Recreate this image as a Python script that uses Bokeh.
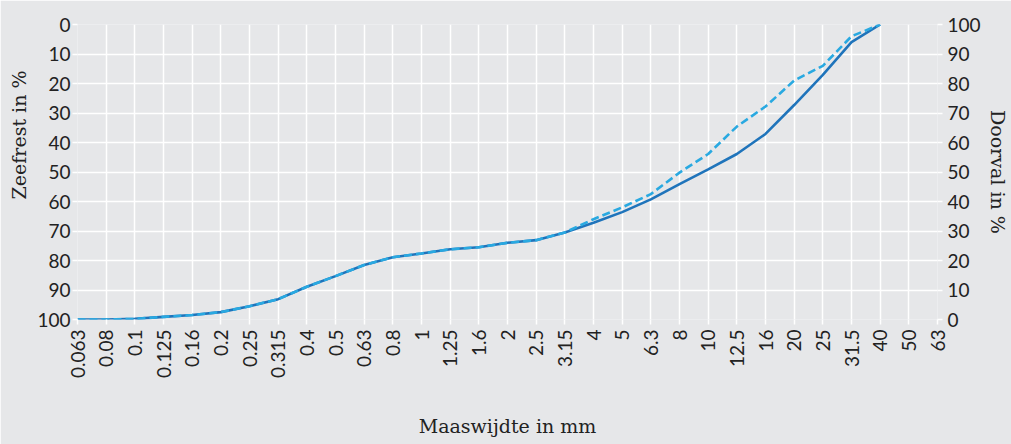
import math
import re
import numpy as np
from bokeh.plotting import figure
from bokeh.models import Range1d, LinearAxis, FixedTicker, Title
from bokeh.embed import file_html
from bokeh.resources import INLINE

# ---- data ----
sieves = ["0.063", "0.08", "0.1", "0.125", "0.16", "0.2", "0.25", "0.315", "0.4", "0.5",
          "0.63", "0.8", "1", "1.25", "1.6", "2", "2.5", "3.15", "4", "5", "6.3", "8",
          "10", "12.5", "16", "20", "25", "31.5", "40", "50", "63"]
doorval_solid = [0, 0, 0.2, 0.9, 1.5, 2.5, 4.5, 6.9, 11.1, 14.7, 18.5, 21.1, 22.4, 23.8, 24.5,
                 26.0, 26.9, 29.5, 32.8, 36.4, 40.7, 45.9, 50.9, 56.1, 62.9, 72.7, 82.9, 94.0,
                 100, np.nan, np.nan]
doorval_dashed = [0, 0, 0.2, 0.9, 1.5, 2.5, 4.5, 6.9, 11.1, 14.7, 18.5, 21.1, 22.4, 23.8, 24.5,
                  26.0, 26.9, 29.5, 34.0, 38.0, 42.5, 49.8, 56.1, 65.4, 72.2, 81.0, 86.0, 96.0,
                  100, np.nan, np.nan]
pct_ticks = [0, 10, 20, 30, 40, 50, 60, 70, 80, 90, 100]

BG = "#e6e7e9"
NUM_FONT = "Lato"
TXT_FONT = "DejaVu Serif"
TXT_COLOR = "#222222"
idx = list(range(len(sieves)))

p = figure(width=1011, height=444, output_backend="svg", toolbar_location=None,
           x_range=Range1d(0, len(sieves) - 1), y_range=Range1d(0, 100),
           y_axis_location="right", min_border_left=77, min_border_right=73,
           min_border_top=24, min_border_bottom=125)
p.background_fill_color = BG
p.border_fill_color = BG
p.outline_line_color = None
p.extra_y_ranges = {"zeef": Range1d(start=100, end=0)}

right_ax = p.yaxis[0]
bottom_ax = p.xaxis[0]
left_ax = LinearAxis(y_range_name="zeef")
p.add_layout(left_ax, "left")

for ax in [bottom_ax, right_ax, left_ax]:
    ax.axis_line_color = None
    ax.major_tick_line_color = "white"
    ax.major_tick_line_width = 1.5
    ax.major_tick_out = 5
    ax.major_tick_in = 0
    ax.minor_tick_line_color = None
    ax.major_label_text_font = NUM_FONT
    ax.major_label_text_font_size = "19px"
    ax.major_label_text_color = TXT_COLOR
    ax.axis_label_text_font = TXT_FONT
    ax.axis_label_text_font_size = "19px"
    ax.axis_label_text_font_style = "normal"
    ax.axis_label_text_color = TXT_COLOR

bottom_ax.ticker = FixedTicker(ticks=idx)
bottom_ax.major_label_overrides = {i: s for i, s in enumerate(sieves)}
bottom_ax.major_label_orientation = math.pi / 2
bottom_ax.major_label_standoff = 5
bottom_ax.axis_label = "Maaswijdte in mm"
bottom_ax.axis_label_standoff = 34

right_ax.ticker = FixedTicker(ticks=pct_ticks)
right_ax.major_label_standoff = 5
right_ax.axis_label = "Doorval in %"
right_ax.axis_label_standoff = 3

left_ax.ticker = FixedTicker(ticks=pct_ticks)
left_ax.major_label_standoff = 2

p.add_layout(Title(text="Zeefrest in  %", align="right", offset=40,
                   text_font=TXT_FONT, text_font_size="19px", text_font_style="normal",
                   text_color=TXT_COLOR), "left")

p.xgrid.ticker = FixedTicker(ticks=idx)
p.ygrid.ticker = FixedTicker(ticks=pct_ticks)
for g in [p.xgrid[0], p.ygrid[0]]:
    g.grid_line_color = "white"
    g.grid_line_width = 1.5

p.line(idx, doorval_solid, line_color="#1f74bb", line_width=2.6)
p.line(idx, doorval_dashed, line_color="#29a9e1", line_width=2.6, line_dash="8 4")

html = file_html(p, INLINE)
html = re.sub(r"<body>", '<body style="margin:0;background:%s;overflow:hidden;">' % BG, html, count=1)
open("out.html", "w").write(html)
